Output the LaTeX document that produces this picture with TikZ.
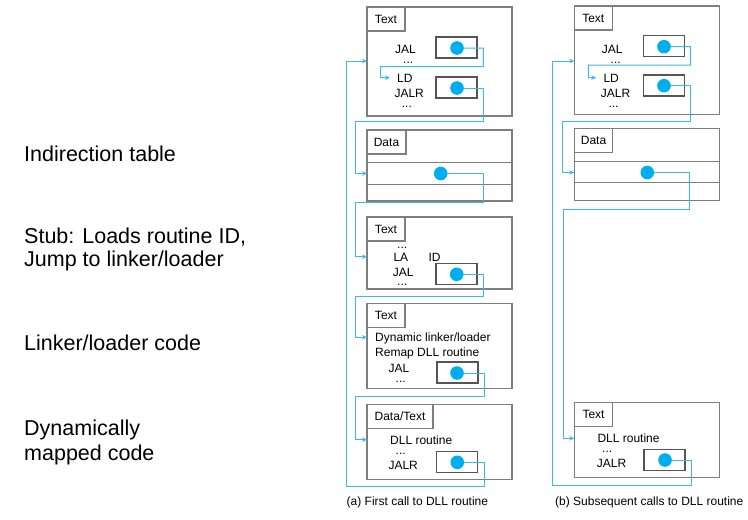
\documentclass[tikz,border=0pt]{standalone}
\usepackage{fontspec}
\setmainfont{Liberation Sans}
\usetikzlibrary{arrows.meta,calc}
\definecolor{cyanline}{HTML}{3DB8EC}
\definecolor{cyandot}{HTML}{00AEEF}
\definecolor{boxgray}{HTML}{7E7E7E}
\definecolor{cellgray}{HTML}{555555}
\begin{document}
\begin{tikzpicture}[x=1pt,y=-1pt,
  box/.style={draw=boxgray,line width=1.1pt,anchor=north west,inner sep=0pt,outer sep=0pt},
  lab/.style={box,font=\fontsize{12}{14}\selectfont,minimum height=24pt},
  rowline/.style={draw=boxgray,line width=1.1pt},
  cell/.style={draw=cellgray,line width=1.1pt,anchor=north west,inner sep=0pt,outer sep=0pt,minimum height=21pt,minimum width=41pt},
  dot/.style={circle,fill=cyandot,inner sep=0pt,minimum size=13.6pt},
  txt/.style={anchor=base west,inner sep=0pt,font=\fontsize{12}{14}\selectfont},
  side/.style={anchor=base west,inner sep=0pt,font=\fontsize{21.5}{26}\selectfont},
  conn/.style={draw=cyanline,line width=1pt},
  arr/.style={conn,-{Stealth[length=5pt,width=4.5pt]}}]
\useasboundingbox (0,0) rectangle (748,520);

% ---------- left labels ----------
\node[side] (s1) at (24,161.7) {Indirection table};
\node[side] (s2) at (24,243.3) {Stub: Loads routine ID,};
\node[side] (s3) at (24,266.7) {Jump to linker/loader};
\node[side] (s4) at (24,350) {Linker/loader code};
\node[side] (s5) at (24,435) {Dynamically};
\node[side] (s6) at (24,460) {mapped code};

% ================= column (a) =================
% box 1
\node[box,minimum width=145pt,minimum height=109pt] (a1) at (367,7) {};
\node[lab,minimum width=38pt] (a1l) at (a1.north west) {Text};
\node[cell] (a1c1) at (436,37) {};
\node[cell] (a1c2) at (436,77) {};
\node[txt] (a1t1) at (395,53.3) {JAL};
\node[txt] (a1t2) at (403,63) {...};
\node[txt] (a1t3) at (397,82) {LD};
\node[txt] (a1t4) at (394.3,97) {JALR};
\node[txt] (a1t5) at (401.7,107) {...};
% box 2 (data)
\node[box,minimum width=145pt,minimum height=71pt] (a2) at (367,130) {};
\node[lab,minimum width=39pt] (a2l) at (a2.north west) {Data};
\draw[rowline] (a2.west |- 0,162.7) -- (a2.east |- 0,162.7);
\draw[rowline] (a2.west |- 0,184.3) -- (a2.east |- 0,184.3);
% box 3 (stub)
\node[box,minimum width=145pt,minimum height=72pt] (a3) at (367,217) {};
\node[lab,minimum width=38pt] (a3l) at (a3.north west) {Text};
\node[cell] (a3c) at (436,263.5) {};
\node[txt] (a3t1) at (397,248) {...};
\node[txt] (a3t2) at (393.3,261) {LA};
\node[txt] (a3t3) at (428.3,261) {ID};
\node[txt] (a3t4) at (392.7,276) {JAL};
\node[txt] (a3t5) at (397,285) {...};
% box 4 (linker/loader)
\node[box,minimum width=145pt,minimum height=85pt] (a4) at (367,303.3) {};
\node[lab,minimum width=38pt] (a4l) at (a4.north west) {Text};
\node[cell] (a4c) at (437,362) {};
\node[txt] (a4t1) at (375,341.7) {Dynamic linker/loader};
\node[txt] (a4t2) at (375,356) {Remap DLL routine};
\node[txt] (a4t3) at (388.3,372.7) {JAL};
\node[txt] (a4t4) at (395.5,382.5) {...};
% box 5 (data/text)
\node[box,minimum width=145pt,minimum height=75pt] (a5) at (367,404.3) {};
\node[lab,minimum width=66pt] (a5l) at (a5.north west) {Data/Text};
\node[cell] (a5c) at (436.7,451.7) {};
\node[txt] (a5t1) at (390,444) {DLL routine};
\node[txt] (a5t2) at (395.5,454) {...};
\node[txt] (a5t3) at (388.3,469.3) {JALR};
\node[txt] (capa) at (346.5,505) {(a) First call to DLL routine};

% connectors (a)
\draw[arr] (457,48) -- (483.3,48) -- (483.3,66.7) -- (380.7,66.7) -- (380.7,77.5) -- ([xshift=-7pt]a1t3.west);
\draw[arr] (457,88) -- (483.3,88) -- (483.3,121.7) -- (355.7,121.7) -- (355.7,173.5) -- (a2.west |- 0,173.5);
\draw[arr] (440.7,173.5) -- (483.3,173.5) -- (483.3,202) -- (355.7,202) -- (355.7,256.7) -- (a3.west |- 0,256.7);
\draw[arr] (456.7,274.3) -- (483.3,274.3) -- (483.3,296.2) -- (355.7,296.2) -- (355.7,337.3) -- (a4.west |- 0,337.3);
\draw[arr] (457,373) -- (484,373) -- (484,396.7) -- (355.7,396.7) -- (355.7,439.7) -- (a5.west |- 0,439.7);
\draw[arr] (457.3,462.3) -- (484,462.3) -- (484,486) -- (346.7,486) -- (346.7,61) -- (a1.west |- 0,61);

% dots (a)
\node[dot] (ad1) at (457,48) {};
\node[dot] (ad2) at (457,88) {};
\node[dot] (ad3) at (440.7,173.5) {};
\node[dot] (ad4) at (456.7,274.3) {};
\node[dot] (ad5) at (457,373) {};
\node[dot] (ad6) at (457.3,462.3) {};

% ================= column (b) =================
\node[box,minimum width=145pt,minimum height=108.5pt] (b1) at (574.3,6) {};
\node[lab,minimum width=38pt] (b1l) at (b1.north west) {Text};
\node[cell] (b1c1) at (643.7,35.7) {};
\node[cell] (b1c2) at (643.7,75) {};
\node[txt] (b1t1) at (601.7,53) {JAL};
\node[txt] (b1t2) at (610.5,63) {...};
\node[txt] (b1t3) at (603.3,82) {LD};
\node[txt] (b1t4) at (600.7,97) {JALR};
\node[txt] (b1t5) at (608.3,107) {...};
% data
\node[box,minimum width=145pt,minimum height=72pt] (b2) at (574.3,128.3) {};
\node[lab,minimum width=38.5pt] (b2l) at (b2.north west) {Data};
\draw[rowline] (b2.west |- 0,161.7) -- (b2.east |- 0,161.7);
\draw[rowline] (b2.west |- 0,182.7) -- (b2.east |- 0,182.7);
% DLL routine
\node[box,minimum width=145pt,minimum height=75pt] (b3) at (574.3,402.7) {};
\node[lab,minimum width=38.5pt] (b3l) at (b3.north west) {Text};
\node[cell] (b3c) at (644,449.3) {};
\node[txt] (b3t1) at (597.3,442.5) {DLL routine};
\node[txt] (b3t2) at (602,452.5) {...};
\node[txt] (b3t3) at (596.7,467.3) {JALR};
\node[txt] (capb) at (555,505) {(b) Subsequent calls to DLL routine};

% connectors (b)
\draw[arr] (664,46.7) -- (690.3,46.7) -- (690.3,65) -- (588.3,65) -- (588.3,77.5) -- ([xshift=-7pt]b1t3.west);
\draw[arr] (664,85.7) -- (690.3,85.7) -- (690.3,121.7) -- (562.3,121.7) -- (562.3,172.5) -- (b2.west |- 0,172.5);
\draw[arr] (647.3,172.5) -- (689.7,172.5) -- (689.7,209.3) -- (563.3,209.3) -- (563.3,438.3) -- (b3.west |- 0,438.3);
\draw[arr] (665,460) -- (691.7,460) -- (691.7,485) -- (552.3,485) -- (552.3,61) -- (b1.west |- 0,61);

% dots (b)
\node[dot] (bd1) at (664,46.7) {};
\node[dot] (bd2) at (664,85.7) {};
\node[dot] (bd3) at (647.3,172.5) {};
\node[dot] (bd4) at (665,460) {};
\end{tikzpicture}
\end{document}
